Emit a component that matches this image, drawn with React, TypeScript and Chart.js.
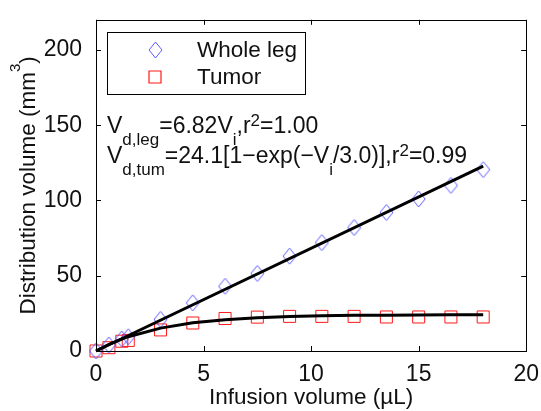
import React, { useEffect, useRef } from 'react';
import { Chart, registerables } from 'chart.js';

Chart.register(...registerables);

// ---- data ----
const infusionVolume = [0, 0.6, 1.2, 1.5, 3, 4.5, 6, 7.5, 9, 10.5, 12, 13.5, 15, 16.5, 18];
const wholeLegVolume = [0, 4, 8, 9.5, 21, 32, 43, 51.5, 63, 72, 82, 92, 101, 110, 120.5];
const tumorVolume = [0, 2.2, 6.5, 7, 14, 18.6, 21.6, 22.5, 23, 23, 23, 22.6, 22.6, 22.6, 22.6];
const legFitX = [0, 18];
const legFitY = [0, 122.8];
const tumorFitY = [0, 4.4, 7.9, 9.5, 15.2, 18.7, 20.8, 22.1, 22.9, 23.4, 23.7, 23.8, 23.9, 24.0, 24.0];
const xTicks = [0, 5, 10, 15, 20];
const yTicks = [0, 50, 100, 150, 200];
const legendLabels = ['Whole leg', 'Tumor'];
const xTitle = 'Infusion volume (\u00b5L)';
const yTitleMain = 'Distribution volume (mm';
const yTitleSup = '3';
const yTitleEnd = ')';

const FONT = '"Liberation Sans", Arial, Helvetica, sans-serif';
const TEXT = '#111111';
const BLUE = '#5a5aff';
const RED = '#ff1a1a';

type Seg = [string, 'n' | 'sub' | 'sup'];

function drawRich(ctx: CanvasRenderingContext2D, x: number, y: number, segs: Seg[], main: number, small: number, subDy: number, supDy: number) {
  let cx = x;
  for (const [t, m] of segs) {
    const size = m === 'n' ? main : small;
    ctx.font = `${size}px ${FONT}`;
    const dy = m === 'sub' ? subDy : m === 'sup' ? supDy : 0;
    ctx.fillText(t, cx, y + dy);
    cx += ctx.measureText(t).width;
  }
  return cx - x;
}

function measureRich(ctx: CanvasRenderingContext2D, segs: Seg[], main: number, small: number) {
  let w = 0;
  for (const [t, m] of segs) {
    ctx.font = `${m === 'n' ? main : small}px ${FONT}`;
    w += ctx.measureText(t).width;
  }
  return w;
}

function makeDiamond(w: number, h: number, color: string) {
  const c = document.createElement('canvas');
  c.width = w + 2;
  c.height = h + 2;
  const g = c.getContext('2d')!;
  g.strokeStyle = color;
  g.lineWidth = 1;
  g.beginPath();
  g.moveTo(c.width / 2, 1);
  g.lineTo(c.width - 1, c.height / 2);
  g.lineTo(c.width / 2, c.height - 1);
  g.lineTo(1, c.height / 2);
  g.closePath();
  g.stroke();
  return c;
}

function makeFramePlugin(diamondImg: HTMLCanvasElement) {
  return {
    id: 'frame',
    afterDatasetsDraw(chart: any) {
      const ctx: CanvasRenderingContext2D = chart.ctx;
      const { left, right, top, bottom } = chart.chartArea;
      const xs = chart.scales.x;
      const ys = chart.scales.y;
      ctx.save();
      ctx.strokeStyle = '#000';
      ctx.lineWidth = 1;
      ctx.strokeRect(Math.round(left) + 0.5, Math.round(top) + 0.5, Math.round(right - left), Math.round(bottom - top));
      const tl = 5;
      ctx.beginPath();
      for (const v of xTicks) {
        const px = Math.round(xs.getPixelForValue(v)) + 0.5;
        ctx.moveTo(px, bottom);
        ctx.lineTo(px, bottom - tl);
        ctx.moveTo(px, top);
        ctx.lineTo(px, top + tl);
      }
      for (const v of yTicks) {
        const py = Math.round(ys.getPixelForValue(v)) + 0.5;
        ctx.moveTo(left, py);
        ctx.lineTo(left + tl, py);
        ctx.moveTo(right, py);
        ctx.lineTo(right - tl, py);
      }
      ctx.stroke();

      // legend
      const lx = Math.round(left) + 11.5;
      const ly = Math.round(top) + 12.5;
      ctx.fillStyle = '#fff';
      ctx.fillRect(lx, ly, 198, 62);
      ctx.strokeStyle = '#000';
      ctx.strokeRect(lx, ly, 198, 62);
      const mx = left + 59;
      ctx.drawImage(diamondImg, Math.round(mx - diamondImg.width / 2), Math.round(top + 30 - diamondImg.height / 2));
      ctx.beginPath();
      ctx.rect(Math.round(mx - 6), Math.round(top + 57 - 6), 12, 12);
      ctx.lineWidth = 1.2;
      ctx.strokeStyle = RED;
      ctx.stroke();
      ctx.fillStyle = TEXT;
      ctx.font = `22.5px ${FONT}`;
      ctx.textBaseline = 'middle';
      ctx.fillText(legendLabels[0], left + 101, top + 31);
      ctx.fillText(legendLabels[1], left + 101, top + 58);

      // fit annotations
      ctx.textBaseline = 'alphabetic';
      drawRich(ctx, left + 11, top + 113, [
        ['V', 'n'], ['d,leg', 'sub'], ['=6.82V', 'n'], ['i', 'sub'], [',r', 'n'], ['2', 'sup'], ['=1.00', 'n'],
      ], 23, 17, 12, -7);
      drawRich(ctx, left + 11, top + 143, [
        ['V', 'n'], ['d,tum', 'sub'], ['=24.1[1\u2212exp(\u2212V', 'n'], ['i', 'sub'], ['/3.0)],r', 'n'], ['2', 'sup'], ['=0.99', 'n'],
      ], 23, 17, 12, -7);

      // y-axis title (rotated, with a real superscript)
      const segs: Seg[] = [[yTitleMain, 'n'], [yTitleSup, 'sup'], [yTitleEnd, 'n']];
      const w = measureRich(ctx, segs, 22.5, 15);
      ctx.translate(35, (top + bottom) / 2 + w / 2);
      ctx.rotate(-Math.PI / 2);
      drawRich(ctx, 0, 0, segs, 22.5, 15, 0, -15);
      ctx.restore();
    },
  };
}

export default function App() {
  const ref = useRef<HTMLCanvasElement | null>(null);
  useEffect(() => {
    if (!ref.current) return;
    const diamondImg = makeDiamond(13, 16, BLUE);
    const legPts = infusionVolume.map((x, i) => ({ x, y: wholeLegVolume[i] }));
    const tumPts = infusionVolume.map((x, i) => ({ x, y: tumorVolume[i] }));
    const legFit = legFitX.map((x, i) => ({ x, y: legFitY[i] }));
    const tumFit = infusionVolume.map((x, i) => ({ x, y: tumorFitY[i] }));
    const chart = new Chart(ref.current, {
      type: 'scatter',
      data: {
        datasets: [
          { label: 'leg fit', data: legFit, showLine: true, borderColor: '#000', borderWidth: 3, pointRadius: 0, clip: false as any },
          { label: 'tumor fit', data: tumFit, showLine: true, borderColor: '#000', borderWidth: 3, pointRadius: 0, clip: false as any },
          { label: legendLabels[0], data: legPts, showLine: false, pointStyle: diamondImg as any, pointRadius: 8, pointBorderWidth: 1, borderColor: BLUE, backgroundColor: 'rgba(0,0,0,0)', clip: false as any },
          { label: legendLabels[1], data: tumPts, showLine: false, pointStyle: 'rect', pointRadius: 8.5, pointBorderWidth: 1, borderColor: RED, backgroundColor: 'rgba(0,0,0,0)', clip: false as any },
        ],
      },
      options: {
        responsive: false,
        animation: false,
        layout: { padding: { top: 15, right: 14, bottom: 0, left: 0 } },
        plugins: { legend: { display: false }, tooltip: { enabled: false } },
        scales: {
          x: {
            type: 'linear',
            min: 0,
            max: 20,
            grid: { display: false },
            border: { display: false },
            afterFit: (s: any) => { s.height = 60; },
            afterBuildTicks: (s: any) => { s.ticks = xTicks.map((v) => ({ value: v })); },
            ticks: { color: TEXT, font: { family: FONT, size: 23 }, padding: 2, maxRotation: 0 },
            title: { display: true, text: xTitle, color: TEXT, font: { family: FONT, size: 22.5 }, padding: { top: 0, bottom: 0 } },
          },
          y: {
            type: 'linear',
            min: 0,
            max: 220,
            grid: { display: false },
            border: { display: false },
            afterFit: (s: any) => { s.width = 96; },
            afterBuildTicks: (s: any) => { s.ticks = yTicks.map((v) => ({ value: v })); },
            ticks: { color: TEXT, font: { family: FONT, size: 23 }, padding: 6 },
            title: { display: false },
          },
        },
      },
      plugins: [makeFramePlugin(diamondImg)],
    });
    return () => chart.destroy();
  }, []);
  return (
    <div style={{ position: 'absolute', left: 0, top: 0, width: 541, height: 411, background: '#fff' }}>
      <canvas ref={ref} width={541} height={411} />
    </div>
  );
}
